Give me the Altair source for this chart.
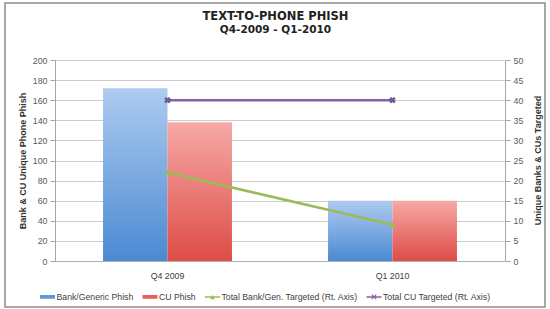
import altair as alt
import pandas as pd

# ---- data ----
title_lines = ["TEXT-TO-PHONE PHISH", "Q4-2009 - Q1-2010"]
quarters = ["Q4 2009", "Q1 2010"]
bank_phish = [172, 60]
cu_phish = [138, 60]
bank_targeted = [22, 9]
cu_targeted = [40, 40]
series_names = [
    "Bank/Generic Phish",
    "CU Phish",
    "Total Bank/Gen. Targeted (Rt. Axis)",
    "Total CU Targeted (Rt. Axis)",
]
left_ticks = list(range(0, 201, 20))
right_ticks = list(range(0, 51, 5))

bars_df = pd.DataFrame({
    "quarter": quarters * 2,
    "series": [series_names[0]] * len(quarters) + [series_names[1]] * len(quarters),
    "value": bank_phish + cu_phish,
})
lines_df = pd.DataFrame({"quarter": quarters, "bank_t": bank_targeted, "cu_t": cu_targeted})
legend_df = pd.DataFrame({"series": series_names})
frame_df = pd.DataFrame({"k": [0]})

FONT = "Liberation Sans"
GREEN = "#9bbb59"
PURPLE = "#8064a2"

blue_grad = alt.Gradient(
    gradient="linear", x1=0, x2=0, y1=0, y2=1,
    stops=[alt.GradientStop(color="#aecbef", offset=0),
           alt.GradientStop(color="#4a8ad3", offset=1)],
)
red_grad = alt.Gradient(
    gradient="linear", x1=0, x2=0, y1=0, y2=1,
    stops=[alt.GradientStop(color="#f6a9a6", offset=0),
           alt.GradientStop(color="#de4c46", offset=1)],
)

x_enc = alt.X(
    "quarter:N", sort=quarters, title=None,
    scale=alt.Scale(paddingInner=0.427, paddingOuter=0.2135),
    axis=alt.Axis(labelAngle=0, ticks=False, tickSize=0, labelPadding=10,
                  labelFont=FONT, labelFontSize=8.8, labelColor="#404040",
                  domainColor="#b0b0b0", grid=False),
)

left_axis = alt.Axis(
    orient="left", values=left_ticks, title="Bank & CU Unique Phone Phish",
    grid=True, gridColor="#cdcdcd", tickColor="#a6a6a6", tickSize=5,
    domainColor="#a6a6a6", labelFont=FONT, labelFontSize=8.8, labelColor="#595959",
    labelPadding=3, titleFont=FONT, titleFontSize=9, titleFontWeight="bold",
    titleColor="#333333", titlePadding=5,
)
right_axis = alt.Axis(
    orient="right", values=right_ticks, title="Unique Banks & CUs Targeted",
    grid=False, tickColor="#a6a6a6", tickSize=5, domainColor="#a6a6a6",
    labelFont=FONT, labelFontSize=8.8, labelColor="#595959", labelPadding=3,
    titleFont=FONT, titleFontSize=9, titleFontWeight="bold", titleColor="#333333",
    titleAngle=270, titleX=32, titleY=100, titleAlign="center", titleBaseline="middle",
)
right_scale = alt.Scale(domain=[0, 50])

bars = alt.Chart(bars_df).mark_bar().encode(
    x=x_enc,
    xOffset=alt.XOffset("series:N", sort=series_names[:2], scale=alt.Scale(paddingInner=0, paddingOuter=0)),
    y=alt.Y("value:Q", scale=alt.Scale(domain=[0, 200]), axis=left_axis),
    color=alt.condition(alt.datum.series == series_names[0], alt.value(blue_grad), alt.value(red_grad)),
)

green_line = alt.Chart(lines_df).mark_line(color=GREEN, strokeWidth=2.5).encode(
    x=x_enc, y=alt.Y("bank_t:Q", scale=right_scale, axis=right_axis))
green_pts = alt.Chart(lines_df).mark_point(shape="triangle-up", filled=True, color=GREEN, size=45, opacity=1).encode(
    x=x_enc, y=alt.Y("bank_t:Q", scale=right_scale, axis=right_axis))
purple_line = alt.Chart(lines_df).mark_line(color=PURPLE, strokeWidth=2.5).encode(
    x=x_enc, y=alt.Y("cu_t:Q", scale=right_scale, axis=right_axis))
purple_pts = alt.Chart(lines_df).mark_point(shape="cross", angle=45, filled=True, color="#6f5c9c", size=45, opacity=1).encode(
    x=x_enc, y=alt.Y("cu_t:Q", scale=right_scale, axis=right_axis))

swatch = "M-1,-0.25 L1,-0.25 L1,0.25 L-1,0.25 Z"
line_tri = "M-1,-0.1 L1,-0.1 L1,0.1 L-1,0.1 Z M-0.3,0.3 L0,-0.3 L0.3,0.3 Z"
line_x = ("M-1,-0.1 L1,-0.1 L1,0.1 L-1,0.1 Z "
          "M-0.35,-0.25 L-0.25,-0.35 L0.35,0.25 L0.25,0.35 Z "
          "M-0.35,0.25 L0.25,-0.35 L0.35,-0.25 L-0.25,0.35 Z")

legend_params = dict(
    title=None, orient="none", legendX=-15, legendY=229, direction="horizontal",
    columns=4, columnPadding=8.5, labelFont=FONT, labelFontSize=8.7, labelColor="#404040",
    labelOffset=1.5, symbolSize=225, symbolStrokeWidth=0, symbolOpacity=1,
)
legend_layer = alt.Chart(legend_df).mark_point(filled=True).encode(
    color=alt.Color("series:N", scale=alt.Scale(domain=series_names,
                    range=["#5f98d9", "#e6605a", GREEN, PURPLE]),
                    legend=alt.Legend(**legend_params)),
    shape=alt.Shape("series:N", scale=alt.Scale(domain=series_names,
                    range=[swatch, swatch, line_tri, line_x]),
                    legend=alt.Legend(**legend_params)),
).transform_filter("false")

lines = alt.layer(green_line, green_pts, purple_line, purple_pts, legend_layer)

frame = alt.Chart(frame_df).mark_rect(filled=False, stroke="#8c8c8c", strokeWidth=1.5).encode(
    x=alt.value(-50), x2=alt.value(490), y=alt.value(-57), y2=alt.value(247))

title1 = alt.Chart(pd.DataFrame({"t": [title_lines[0]]})).mark_text(
    font="DejaVu Sans", fontSize=11.5, fontWeight="bold", color="#222222",
    align="center", baseline="middle",
).encode(text="t:N", x=alt.value(220.5), y=alt.value(-43))
title2 = alt.Chart(pd.DataFrame({"t": [title_lines[1]]})).mark_text(
    font="DejaVu Sans", fontSize=10.5, fontWeight="bold", color="#222222",
    align="center", baseline="middle",
).encode(text="t:N", x=alt.value(220.5), y=alt.value(-30))

chart = alt.layer(bars, lines, frame, title1, title2).resolve_scale(y="independent").properties(
    width=450, height=201,
    autosize=alt.AutoSizeParams(type="none"),
    padding={"left": 55, "top": 60, "right": 45, "bottom": 48},
    background="white",
).configure_view(stroke=None)

chart.save("out.html", embed_options={"renderer": "svg", "actions": False})
